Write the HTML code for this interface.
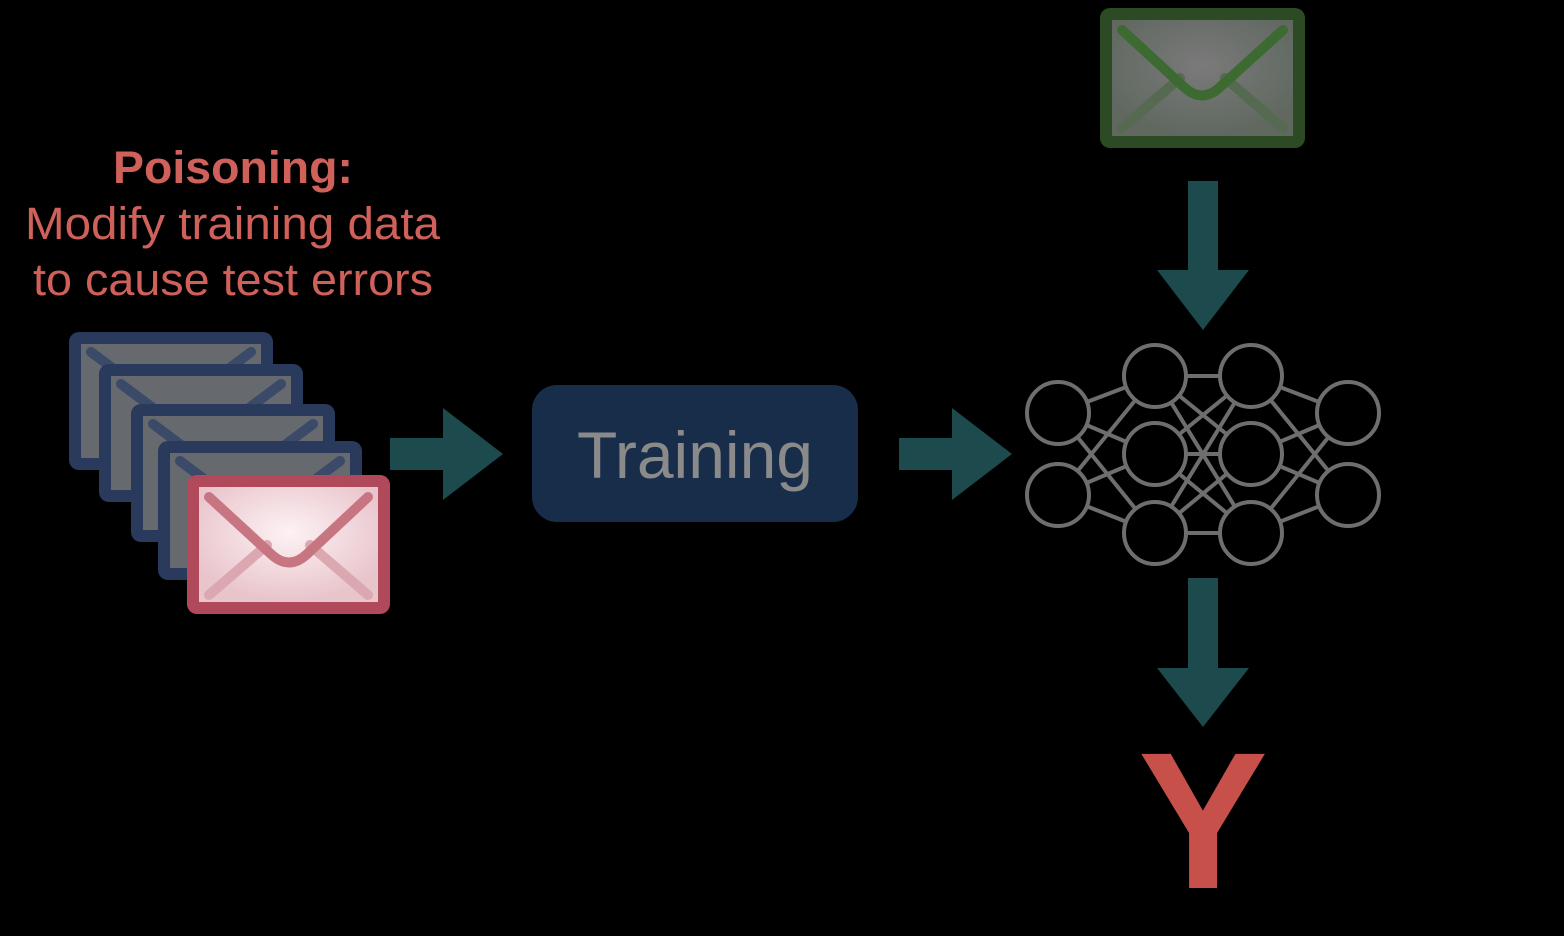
<!DOCTYPE html>
<html><head><meta charset="utf-8"><style>
html,body{margin:0;padding:0;background:#000;width:1564px;height:936px;overflow:hidden}
svg{display:block}
</style></head><body>
<svg width="1564" height="936" viewBox="0 0 1564 936" xmlns="http://www.w3.org/2000/svg" font-family="Liberation Sans, sans-serif">
<defs>
<radialGradient id="rg" cx="50%" cy="40%" r="60%"><stop offset="0" stop-color="#fdf2f4"/><stop offset="1" stop-color="#e8c4cb"/></radialGradient>
<radialGradient id="gg" cx="50%" cy="40%" r="60%"><stop offset="0" stop-color="#7a7a7a"/><stop offset="1" stop-color="#606860"/></radialGradient>
</defs>
<text x="113" y="183" textLength="240" lengthAdjust="spacingAndGlyphs" font-size="45" font-weight="bold" fill="#d0605a">Poisoning:</text>
<text x="25" y="239" textLength="415" lengthAdjust="spacingAndGlyphs" font-size="45" fill="#d0605a">Modify training data</text>
<text x="33" y="295" textLength="400" lengthAdjust="spacingAndGlyphs" font-size="45" fill="#d0605a">to cause test errors</text>

<g id="envs">
<g transform="translate(69,332)"><rect width="204" height="138" rx="10" fill="#2a3a5c"/><rect x="12" y="12" width="180" height="114" fill="#666a6e"/><path d="M22 20 L102 80 L182 20" stroke="#3a4a68" stroke-width="10" fill="none" stroke-linecap="round"/></g>
<g transform="translate(99,364)"><rect width="204" height="138" rx="10" fill="#2a3a5c"/><rect x="12" y="12" width="180" height="114" fill="#666a6e"/><path d="M22 20 L102 80 L182 20" stroke="#3a4a68" stroke-width="10" fill="none" stroke-linecap="round"/></g>
<g transform="translate(131,404)"><rect width="204" height="138" rx="10" fill="#2a3a5c"/><rect x="12" y="12" width="180" height="114" fill="#666a6e"/><path d="M22 20 L102 80 L182 20" stroke="#3a4a68" stroke-width="10" fill="none" stroke-linecap="round"/></g>
<g transform="translate(158,441)"><rect width="204" height="139" rx="10" fill="#2a3a5c"/><rect x="12" y="12" width="180" height="115" fill="#666a6e"/><path d="M22 20 L102 80 L182 20" stroke="#3a4a68" stroke-width="10" fill="none" stroke-linecap="round"/></g>
<g transform="translate(187,475)"><rect width="203" height="139" rx="10" fill="#b04a5a"/><rect x="12" y="12" width="179" height="115" fill="url(#rg)"/><path d="M22 120 L80 70 M181 120 L123 70" stroke="#dba8b2" stroke-width="10" fill="none" stroke-linecap="round"/><path d="M22 22 L85 80 Q102 95 119 80 L181 22" stroke="#c87582" stroke-width="10" fill="none" stroke-linecap="round"/></g>
<g transform="translate(1100,8)"><rect width="205" height="140" rx="10" fill="#2c4a24"/><rect x="12" y="12" width="181" height="116" fill="url(#gg)"/><path d="M22 120 L80 70 M183 120 L125 70" stroke="#556a50" stroke-width="10" fill="none" stroke-linecap="round"/><path d="M22 22 L85 80 Q102 95 119 80 L183 22" stroke="#3c6a30" stroke-width="10" fill="none" stroke-linecap="round"/></g>
</g>

<g fill="#1c4a4d">
<polygon points="390,438 443,438 443,408 503,454 443,500 443,470 390,470"/>
<polygon points="899,438 952,438 952,408 1012,454 952,500 952,470 899,470"/>
<polygon points="1188,181 1218,181 1218,270 1249,270 1203,330 1157,270 1188,270"/>
<polygon points="1188,578 1218,578 1218,668 1249,668 1203,727 1157,668 1188,668"/>
</g>

<rect x="532" y="385" width="326" height="137" rx="25" fill="#172d4a"/>
<text x="695" y="478" text-anchor="middle" font-size="66" fill="#8a8a8a">Training</text>

<g stroke="#6e6e6e" stroke-width="4" fill="none">
<path d="M1058 413L1155 376M1058 413L1155 454M1058 413L1155 533M1058 495L1155 376M1058 495L1155 454M1058 495L1155 533
M1155 376L1251 376M1155 376L1251 454M1155 376L1251 533M1155 454L1251 376M1155 454L1251 454M1155 454L1251 533M1155 533L1251 376M1155 533L1251 454M1155 533L1251 533
M1251 376L1348 413M1251 376L1348 495M1251 454L1348 413M1251 454L1348 495M1251 533L1348 413M1251 533L1348 495"/>
</g>
<g stroke="#6e6e6e" stroke-width="4" fill="#000">
<circle cx="1058" cy="413" r="31"/><circle cx="1058" cy="495" r="31"/>
<circle cx="1155" cy="376" r="31"/><circle cx="1155" cy="454" r="31"/><circle cx="1155" cy="533" r="31"/>
<circle cx="1251" cy="376" r="31"/><circle cx="1251" cy="454" r="31"/><circle cx="1251" cy="533" r="31"/>
<circle cx="1348" cy="413" r="31"/><circle cx="1348" cy="495" r="31"/>
</g>

<text x="1203" y="888" text-anchor="middle" font-size="195" font-weight="bold" fill="#c8504a">Y</text>
</svg>
</body></html>
